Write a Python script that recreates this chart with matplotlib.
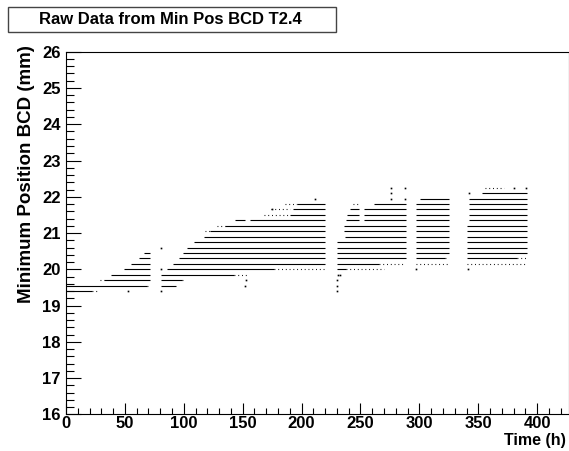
import matplotlib
matplotlib.use("Agg")
import matplotlib.pyplot as plt
from matplotlib.ticker import MultipleLocator
from matplotlib.patches import Rectangle

# BCD minimum position is quantised in steps of 0.15 mm.
# Rows: (position mm, start h, end h)
dense_rows = [
    # first run
    (19.40, 0.0, 21.8),
    (19.55, 0.0, 68.6),
    (19.70, 32.6, 71.4),
    (19.85, 38.3, 71.4),
    (20.00, 49.3, 71.4),
    (20.15, 55.3, 71.4),
    (20.30, 62.0, 71.4),
    (20.45, 66.6, 71.4),
    # second run
    (19.55, 80.8, 93.5),
    (19.70, 80.8, 98.4),
    (19.85, 80.8, 142.3),
    (20.00, 85.6, 176.3),
    (20.15, 91.2, 220.2),
    (20.30, 96.1, 220.2),
    (20.45, 98.9, 220.2),
    (20.60, 102.6, 220.2),
    (20.75, 108.3, 220.2),
    (20.90, 117.3, 220.2),
    (21.05, 122.4, 220.2),
    (21.20, 135.2, 220.2),
    (21.35, 143.7, 152.0),
    (21.35, 156.5, 220.2),
    (21.50, 190.5, 220.2),
    (21.65, 192.7, 220.2),
    (21.80, 196.0, 220.2),
    # third run
    (20.00, 230.0, 238.0),
    (20.15, 230.0, 266.0),
    (20.30, 230.0, 288.3),
    (20.45, 230.0, 288.3),
    (20.60, 230.0, 288.3),
    (20.75, 230.0, 288.3),
    (20.90, 237.0, 288.3),
    (21.05, 235.8, 288.3),
    (21.20, 236.4, 288.3),
    (21.35, 237.8, 248.5),
    (21.35, 252.8, 288.3),
    (21.50, 238.7, 248.6),
    (21.50, 252.8, 288.3),
    (21.65, 241.5, 248.6),
    (21.65, 252.8, 288.3),
    (21.80, 261.3, 288.3),
    # fourth run
    (20.30, 296.8, 322.0),
    (20.45, 296.8, 325.0),
    (20.60, 296.8, 325.0),
    (20.75, 296.8, 325.0),
    (20.90, 296.8, 325.0),
    (21.05, 296.8, 325.0),
    (21.20, 296.8, 325.0),
    (21.35, 296.8, 325.0),
    (21.50, 296.8, 325.0),
    (21.65, 296.8, 325.0),
    (21.80, 296.8, 325.0),
    (21.95, 300.4, 325.0),
    # fifth run
    (20.30, 340.7, 383.0),
    (20.45, 340.7, 391.7),
    (20.60, 340.7, 391.7),
    (20.75, 340.7, 391.7),
    (20.90, 340.7, 391.7),
    (21.05, 340.7, 391.7),
    (21.20, 340.7, 391.7),
    (21.35, 342.0, 391.7),
    (21.50, 342.0, 391.7),
    (21.65, 342.0, 391.7),
    (21.80, 342.0, 391.7),
    (21.95, 342.0, 391.7),
    (22.10, 353.5, 391.7),
]

# stretches where the points are thin
sparse_rows = [
    (19.40, 21.8, 26.0),
    (19.55, 68.6, 71.0),
    (19.70, 29.0, 32.6),
    (19.70, 98.4, 99.7),
    (19.85, 142.3, 153.6),
    (20.00, 176.3, 220.0),
    (21.05, 118.0, 122.4),
    (21.20, 128.0, 135.2),
    (21.50, 167.8, 190.5),
    (21.65, 174.0, 190.5),
    (21.80, 186.0, 196.0),
    (20.00, 238.0, 270.0),
    (20.15, 266.0, 287.0),
    (21.80, 244.0, 249.0),
    (20.15, 296.8, 325.0),
    (20.30, 322.0, 324.0),
    (20.15, 340.7, 391.7),
    (20.30, 383.0, 391.7),
    (22.25, 356.0, 371.6),
]

# single stray points
dot_time = [52.4, 80.8, 80.8, 80.8, 152.0, 152.8, 174.9, 211.0,
            230.0, 230.0, 230.0, 230.5, 232.5,
            275.5, 287.4, 275.5, 275.5, 287.4,
            296.8, 341.0, 342.0, 380.0, 390.3]
dot_pos = [19.40, 19.40, 20.00, 20.60, 19.55, 19.70, 21.65, 21.95,
           19.40, 19.55, 19.70, 19.85, 19.85,
           21.95, 21.95, 22.10, 22.25, 22.25,
           20.00, 20.00, 22.10, 22.25, 22.25]

plt.rcParams['font.family'] = ['Liberation Sans', 'DejaVu Sans']
plt.rcParams['font.weight'] = 'bold'

W, H = 569, 451
fig = plt.figure(figsize=(W / 100, H / 100), dpi=100)
ax = fig.add_axes([66 / W, 1 - 414.4 / H, (569 - 66) / W, (414.4 - 51.7) / H])

lw = 0.8
for pos, t0, t1 in dense_rows:
    ax.hlines(pos, t0, t1, color='black', lw=lw)
for pos, t0, t1 in sparse_rows:
    ax.hlines(pos, t0, t1, color='black', lw=lw, linestyles=(0, (0.8, 2.6)))
ax.plot(dot_time, dot_pos, ls='none', marker='s', ms=1.2, mew=0, color='black')

ax.set_xlim(0, 427)
ax.set_ylim(16, 26)
ax.xaxis.set_major_locator(MultipleLocator(50))
ax.xaxis.set_minor_locator(MultipleLocator(10))
ax.yaxis.set_major_locator(MultipleLocator(1))
ax.yaxis.set_minor_locator(MultipleLocator(0.2))

ax.tick_params(axis='y', which='major', direction='in', length=10.8, width=0.8,
               labelsize=12, pad=4)
ax.tick_params(axis='y', which='minor', direction='in', length=5.4, width=0.8)
ax.tick_params(axis='x', which='major', direction='in', length=7.9, width=0.8,
               labelsize=12, pad=1.5)
ax.tick_params(axis='x', which='minor', direction='in', length=4, width=0.8)
for lab in ax.get_xticklabels() + ax.get_yticklabels():
    lab.set_fontweight('bold')
for sp in ax.spines.values():
    sp.set_linewidth(0.8)

fig.text(566 / W, 1 - 441 / H, 'Time (h)', ha='right', va='center',
         fontsize=11.5, fontweight='bold')
fig.text(26.5 / W, 1 - 45 / H, 'Minimum Position BCD (mm)', rotation=90,
         ha='center', va='top', fontsize=13.5, fontweight='bold')

# title box
fig.patches.append(Rectangle((8 / W, 1 - 32 / H), 328 / W, 25 / H,
                             transform=fig.transFigure, fc='white',
                             ec='#444444', lw=1))
fig.text(170 / W, 1 - 19.5 / H, 'Raw Data from Min Pos BCD T2.4',
         ha='center', va='center', fontsize=12, fontweight='bold')

fig.savefig('out.png', dpi=100)
